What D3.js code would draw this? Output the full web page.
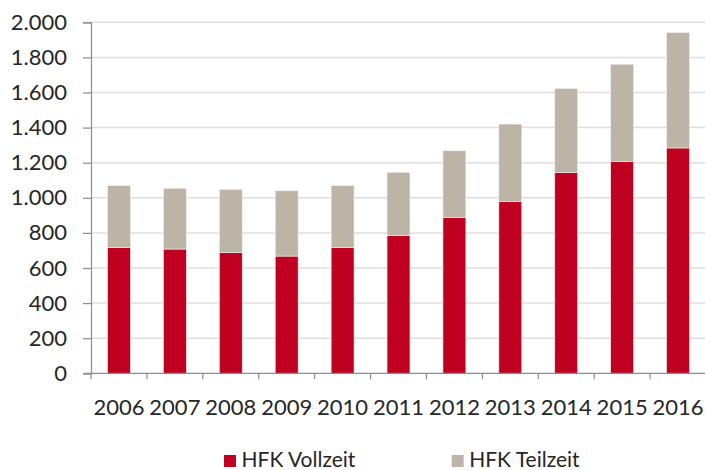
<!DOCTYPE html>
<html><head><meta charset="utf-8">
<script src="https://cdn.jsdelivr.net/npm/d3@7/dist/d3.min.js"></script>
<style>body{margin:0;background:#fff}svg{display:block;font-family:Lato,"Open Sans",sans-serif}</style>
</head><body><svg id="c" width="705" height="470"></svg>
<script>
const years = ["2006","2007","2008","2009","2010","2011","2012","2013","2014","2015","2016"];
const vollzeit = [716, 708, 689, 668, 716, 786, 889, 980, 1145, 1208, 1284];
const teilzeit = [353, 346, 359, 372, 353, 359, 379, 440, 477, 553, 657];
const seriesNames = ["HFK Vollzeit", "HFK Teilzeit"];
const seriesColors = ["#C00020", "#BCB5A6"];
const yTicks = [0, 200, 400, 600, 800, 1000, 1200, 1400, 1600, 1800, 2000];

const svg = d3.select("#c");
const mLeft = 91, mRight = 706, mTop = 22.3, mBottom = 373.3;
const x = d3.scaleBand().domain(years).range([mLeft, mRight]).paddingInner(0.59).paddingOuter(0.295);
const y = d3.scaleLinear().domain([0, 2000]).range([mBottom, mTop]);
const fmt = v => d3.format(",")(v).replace(/,/g, ".");
const textColor = "#262626";

// gridlines
svg.append("g").selectAll("line").data(yTicks.filter(d => d > 0)).join("line")
  .attr("x1", mLeft).attr("x2", 705).attr("y1", d => y(d)).attr("y2", d => y(d))
  .attr("stroke", "#E2DFDA").attr("stroke-width", 1.5);

// stacked bars
const rows = years.map((yr, i) => ({year: yr, v: vollzeit[i], t: teilzeit[i]}));
const stack = d3.stack().keys(["v", "t"])(rows);
svg.append("g").selectAll("g").data(stack).join("g")
  .attr("fill", (d, i) => seriesColors[i])
  .selectAll("rect").data(d => d).join("rect")
  .attr("x", d => x(d.data.year)).attr("width", x.bandwidth())
  .attr("y", d => y(d[1])).attr("height", d => y(d[0]) - y(d[1]))
  .attr("stroke", "#f3eeee").attr("stroke-width", 0.6);

// y axis
const yAxis = d3.axisLeft(y).tickValues(yTicks).tickFormat(fmt).tickSize(8).tickPadding(16);
const ya = svg.append("g").attr("transform", `translate(${mLeft},0)`).call(yAxis);
ya.select(".domain").attr("stroke", "#8c8c8c").attr("stroke-width", 1.2);
ya.selectAll(".tick line").attr("stroke", "#8c8c8c").attr("stroke-width", 1.2);
ya.selectAll("text").attr("font-size", 22).attr("fill", textColor).attr("font-family", "Lato");

// x axis
const xAxis = d3.axisBottom(x).tickSize(0).tickPadding(26);
const xa = svg.append("g").attr("transform", `translate(0,${mBottom})`).call(xAxis);
xa.select(".domain").remove();
xa.selectAll("text").attr("font-size", 22).attr("fill", textColor).attr("font-family", "Lato");
// axis baseline and category separator ticks
svg.append("line").attr("x1", mLeft - 7).attr("x2", 705).attr("y1", mBottom).attr("y2", mBottom)
  .attr("stroke", "#8c8c8c").attr("stroke-width", 1.2);
const sepPos = years.map(yr => x(yr) - x.step() * x.paddingInner() / 2);
svg.append("g").selectAll("line").data(sepPos).join("line")
  .attr("x1", d => d).attr("x2", d => d).attr("y1", mBottom).attr("y2", mBottom + 6)
  .attr("stroke", "#8c8c8c").attr("stroke-width", 1.2);

// legend
const legendX = [224, 451.7];
const lg = svg.append("g").selectAll("g").data(seriesNames).join("g")
  .attr("transform", (d, i) => `translate(${legendX[i]},454)`);
lg.append("rect").attr("y", 1).attr("width", 12).attr("height", 12).attr("fill", (d, i) => seriesColors[i]);
lg.append("text").attr("x", 17.5).attr("y", 12.5).attr("font-size", 21).attr("fill", textColor)
  .attr("font-family", "Lato").text(d => d);
</script></body></html>
